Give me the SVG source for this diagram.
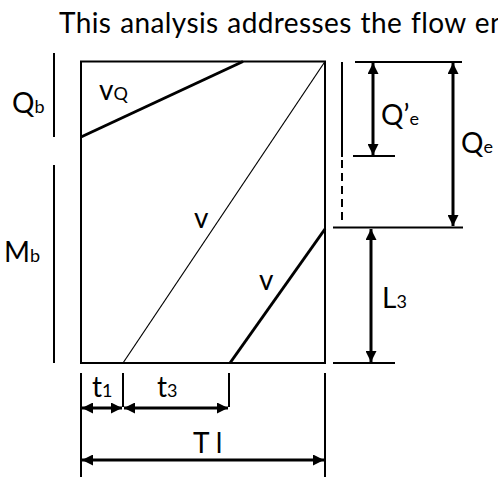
<svg xmlns="http://www.w3.org/2000/svg" width="498" height="477" viewBox="0 0 498 477">
<style>
.t{font-family:Lato,"Open Sans","Liberation Sans",sans-serif;fill:#000;font-size:28px}
.s{font-size:18px}
.l{stroke:#000;fill:none;stroke-width:2}
.thin{stroke:#000;fill:none;stroke-width:1.2}
.thick{stroke:#000;fill:none;stroke-width:3}
</style>
<defs>
<marker id="ah" viewBox="0 0 10 10" refX="10" refY="5" markerWidth="11" markerHeight="11" markerUnits="userSpaceOnUse" orient="auto-start-reverse">
<path d="M0,0 L10,5 L0,10 z" fill="#000"/>
</marker>
</defs>
<rect width="498" height="477" fill="#fff"/>
<text class="t" x="59" y="33" font-size="27" letter-spacing="0.4" word-spacing="1.2">This analysis addresses the flow en</text>
<g id="box">
<rect x="81" y="61.5" width="244" height="301.5" class="l"/>
</g>
<g id="lines">
<line x1="81" y1="137" x2="243" y2="61.5" class="thick"/>
<line x1="325" y1="61.5" x2="123" y2="363" class="thin"/>
<line x1="325" y1="229" x2="230" y2="363" class="thick"/>
</g>
<g id="labels-left">
<line x1="54" y1="53" x2="54" y2="137" class="l"/>
<line x1="54" y1="165" x2="54" y2="363" class="l"/>
<text class="t" x="12" y="113">Q<tspan class="s">b</tspan></text>
<text class="t" x="4" y="262">M<tspan class="s">b</tspan></text>
<text class="t" x="99" y="100">v<tspan class="s">Q</tspan></text>
<text class="t" x="194" y="228">v</text>
<text class="t" x="259" y="290">v</text>
</g>
<g id="right-dims">
<line x1="342" y1="62" x2="342" y2="157" class="l"/>
<line x1="342" y1="160" x2="342" y2="224" class="l" stroke-dasharray="8,5"/>
<line x1="355" y1="62" x2="462" y2="62" class="l"/>
<line x1="353" y1="156" x2="395" y2="156" class="l"/>
<line x1="333" y1="227.5" x2="463" y2="227.5" class="l"/>
<line x1="333" y1="363" x2="395" y2="363" class="l"/>
<line x1="373" y1="63" x2="373" y2="155" class="thick" marker-start="url(#ah)" marker-end="url(#ah)"/>
<line x1="453" y1="63" x2="453" y2="226" class="thick" marker-start="url(#ah)" marker-end="url(#ah)"/>
<line x1="371" y1="229" x2="371" y2="362" class="thick" marker-start="url(#ah)" marker-end="url(#ah)"/>
<text class="t" x="381" y="125">Q’<tspan class="s">e</tspan></text>
<text class="t" x="461" y="153">Q<tspan class="s">e</tspan></text>
<text class="t" x="382" y="308">L<tspan class="s">3</tspan></text>
</g>
<g id="bottom-dims">
<line x1="81" y1="373" x2="81" y2="477" class="l"/>
<line x1="123" y1="373" x2="123" y2="407" class="l"/>
<line x1="229" y1="373" x2="229" y2="407" class="l"/>
<line x1="325" y1="373" x2="325" y2="477" class="l"/>
<line x1="82" y1="408" x2="122" y2="408" class="thick" marker-start="url(#ah)" marker-end="url(#ah)"/>
<line x1="124" y1="408" x2="228" y2="408" class="thick" marker-start="url(#ah)" marker-end="url(#ah)"/>
<line x1="82" y1="460" x2="324" y2="460" class="thick" marker-start="url(#ah)" marker-end="url(#ah)"/>
<text class="t" x="92" y="397">t<tspan class="s">1</tspan></text>
<text class="t" x="157" y="397">t<tspan class="s">3</tspan></text>
<text class="t" x="193" y="453">T l</text>
</g>
</svg>
